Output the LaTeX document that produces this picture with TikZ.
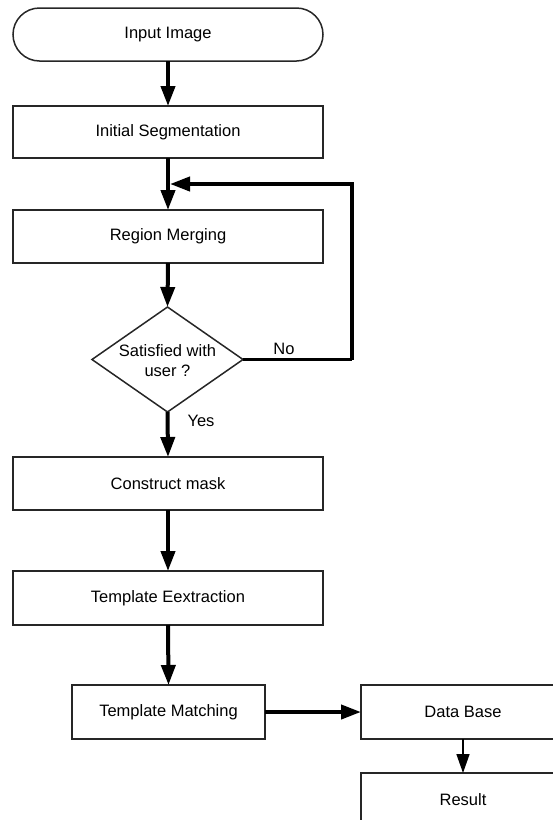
\documentclass[tikz,border=0pt]{standalone}
\usepackage{fontspec}
\setmainfont{Liberation Sans}
\usetikzlibrary{arrows.meta,shapes.geometric}
\begin{document}
\begin{tikzpicture}[x=1pt,y=-1pt,
  every node/.style={font=\fontsize{16.5pt}{20pt}\selectfont, inner sep=0pt, outer sep=0pt},
  box/.style={draw=black!85, line width=1.5pt, fill=white, minimum height=53pt},
  term/.style={box, rounded corners=26.5pt},
  flow/.style={line width=4pt, -{Triangle[length=20pt,width=14pt]}},
  thinflow/.style={line width=1.5pt, -{Triangle[length=19pt,width=13pt]}},
  plainline/.style={line width=3pt}
]
\useasboundingbox (0,0) rectangle (553,820);
\node[term, minimum width=310pt] (in) at (168,34.5) {Input Image};
\node[box, minimum width=310pt, minimum height=52pt] (seg) at (168,132) {Initial Segmentation};
\node[box, minimum width=310pt] (merge) at (168,236.5) {Region Merging};
\node[diamond, draw=black!85, line width=1.5pt, minimum width=151pt, minimum height=105pt] (dec) at (167.5,359.5) {};
\node[align=center] (dectext) at (167.5,361) {Satisfied with\\user ?};
\node[box, minimum width=310pt] (mask) at (168,483.5) {Construct mask};
\node[box, minimum width=310pt, minimum height=54pt] (tex) at (168,598) {Template Eextraction};
\node[box, minimum width=193pt, minimum height=54pt] (tm) at (168.5,712) {Template Matching};
\node[box, minimum width=204pt, minimum height=54pt] (db) at (463,712) {Data Base};
\node[box, minimum width=204pt, minimum height=54pt] (res) at (463,800) {Result};
\node (no) at (284,349) {No};
\node (yes) at (201,421) {Yes};
\coordinate (nocorner) at (352,359.5);
\coordinate (fb) at (170,184);
\draw[flow] (in.south) -- (seg.north);
\draw[flow] (seg.south) -- (merge.north);
\draw[flow] (merge.south) -- (dec.north);
\draw[plainline] (dec.east) -- (nocorner);
\draw[flow] (nocorner) |- (fb);
\draw[flow] (dec.south) -- (mask.north);
\draw[flow] (mask.south) -- (tex.north);
\draw[flow] (tex.south) -- (tm.north);
\draw[flow] (tm.east) -- (db.west);
\draw[thinflow] (db.south) -- (res.north);
\end{tikzpicture}
\end{document}
